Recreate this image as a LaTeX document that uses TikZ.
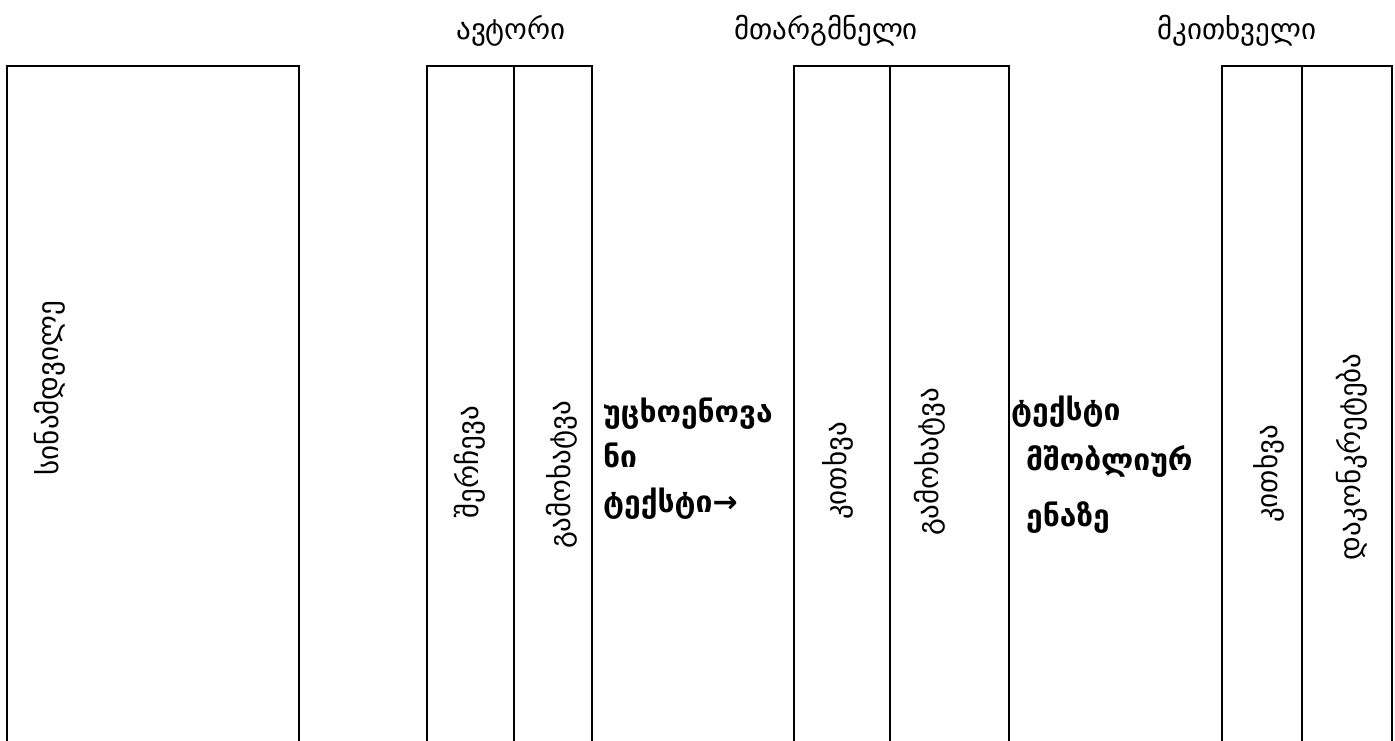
\documentclass[tikz,border=0pt]{standalone}
\usepackage{fontspec}
\setmainfont{DejaVu Sans}
\begin{document}
\begin{tikzpicture}[x=1pt,y=-1pt,
  col/.style={draw, line width=2pt, rectangle, inner sep=0pt, minimum height=740pt},
  head/.style={font=\fontsize{29}{33}\selectfont, inner sep=0pt},
  vlbl/.style={rotate=90, font=\fontsize{29}{33}\selectfont, inner sep=0pt},
  hlbl/.style={font=\bfseries\fontsize{30}{34}\selectfont, inner sep=0pt, anchor=base west}]
\useasboundingbox (0,0) rectangle (1395,740);
\clip (0,0) rectangle (1395,740);
% columns (open at the bottom)
\node[col, minimum width=292pt] (real) at (153,436) {};
\node[col, minimum width=87pt] (choose) at (470.5,436) {};
\node[col, minimum width=78pt] (express1) at (553,436) {};
\node[col, minimum width=96pt] (read1) at (842,436) {};
\node[col, minimum width=119pt] (express2) at (949.5,436) {};
\node[col, minimum width=80pt] (read2) at (1262,436) {};
\node[col, minimum width=90pt] (concrete) at (1347,436) {};
% headings
\node[head] (author) at (511,31) {ავტორი};
\node[head] (translator) at (826,31) {მთარგმნელი};
\node[head] (reader) at (1237,31) {მკითხველი};
% vertical labels
\node[vlbl] (t1) at (50,388) {სინამდვილე};
\node[vlbl] (t2) at (470,462) {შერჩევა};
\node[vlbl] (t3) at (562,475) {გამოხატვა};
\node[vlbl] (t4) at (838,471) {კითხვა};
\node[vlbl] (t5) at (930,462) {გამოხატვა};
\node[vlbl] (t6) at (1269,474) {კითხვა};
\node[vlbl] (t7) at (1352,457) {დაკონკრეტება};
% horizontal labels
\node[hlbl] (f1) at (603,422) {უცხოენოვა};
\node[hlbl] (f2) at (603,467) {ნი};
\node[hlbl] (f3) at (603,512) {ტექსტი→};
\node[hlbl] (n1) at (1011,420) {ტექსტი};
\node[hlbl] (n2) at (1026,470) {მშობლიურ};
\node[hlbl] (n3) at (1026,526) {ენაზე};
\end{tikzpicture}
\end{document}
